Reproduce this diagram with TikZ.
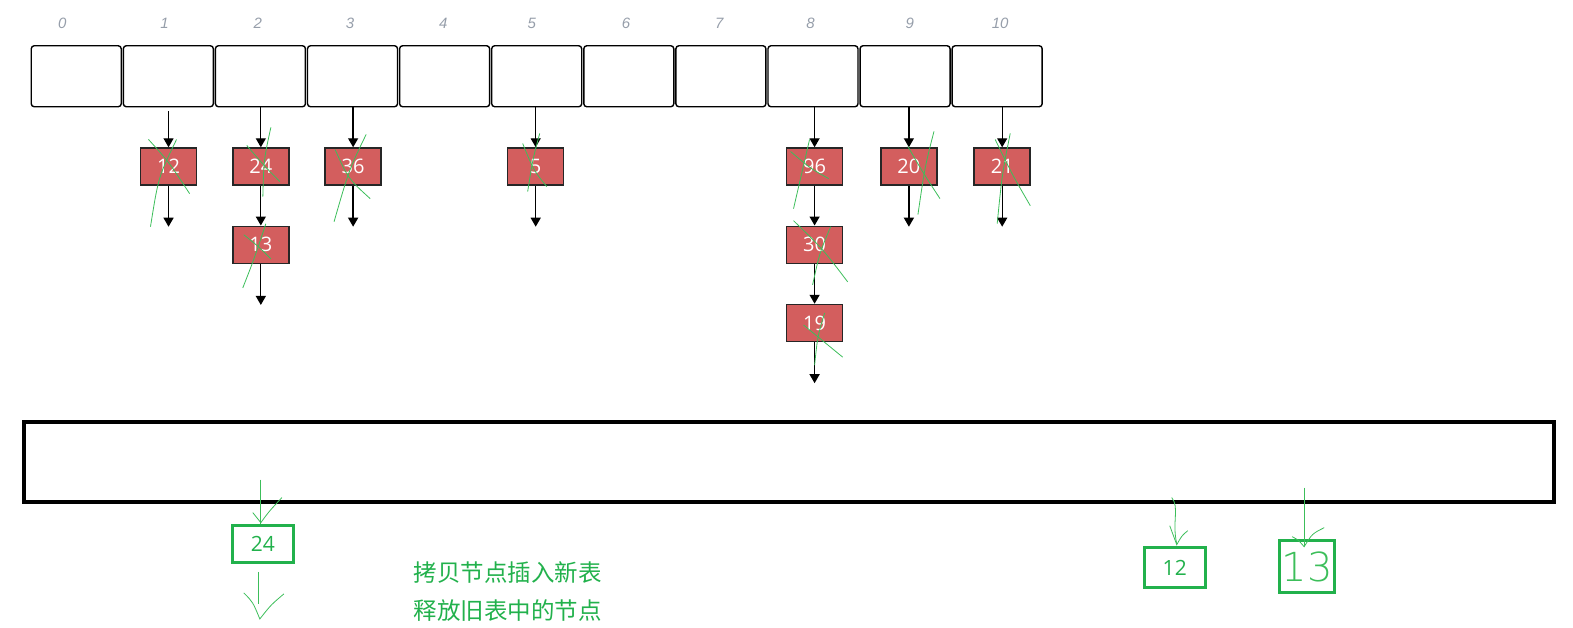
\documentclass[tikz,border=0pt]{standalone}
\usepackage{fontspec}
\setmainfont{Open Sans}
\newfontfamily\idxfont{Liberation Sans}
\newfontfamily\cjk{Noto Sans CJK SC}
\newfontfamily\thinfont{DejaVu Sans ExtraLight}
\usetikzlibrary{arrows.meta}
\definecolor{nodered}{RGB}{211,94,94}
\definecolor{gr}{RGB}{34,177,76}
\definecolor{lgr}{RGB}{60,190,90}
\definecolor{idxgray}{RGB}{150,158,170}
\tikzset{
  cell/.style={draw=black, line width=1.4pt, rounded corners=3pt, minimum width=90pt, minimum height=61pt, inner sep=0pt, fill=white},
  hnode/.style={draw=black!85, line width=1.5pt, fill=nodered, minimum width=56pt, minimum height=37pt, inner sep=0pt, text=white, font=\fontsize{20}{20}\selectfont},
  idx/.style={text=idxgray, font=\idxfont\itshape\fontsize{15}{15}\selectfont},
  arr/.style={line width=1.3pt, -{Triangle[width=10pt,length=9pt]}},
  cross/.style={draw=lgr, line width=0.8pt},
  gbox/.style={draw=gr, line width=3pt, inner sep=0pt, text=gr, font=\fontsize{21}{21}\selectfont},
  garr/.style={draw=lgr, line width=0.8pt},
  cn/.style={text=gr, font=\cjk\fontsize{23.5}{23.5}\selectfont, anchor=west, inner sep=0pt}
}
\begin{document}
\begin{tikzpicture}[x=1.0032pt,y=-1.0032pt]
\useasboundingbox (0,0) rectangle (1568,626);
% index labels
\foreach \i/\x in {0/62,1/164,2/257,3/349,4/442,5/530,6/624,7/717,8/808,9/907,10/997}
  \node[idx] (l\i) at (\x,23) {\i};
% cells
\foreach \i in {0,...,10}
  \node[cell] (c\i) at (76+91.8*\i,76) {};
% chain nodes
\node[hnode] (n12) at (168,166) {12};
\node[hnode] (n24) at (260,166) {24};
\node[hnode] (n13) at (260,244) {13};
\node[hnode] (n36) at (352,166) {36};
\node[hnode] (n5)  at (534,166) {5};
\node[hnode] (n96) at (812,166) {96};
\node[hnode] (n30) at (812,244) {30};
\node[hnode] (n19) at (812,322) {19};
\node[hnode] (n20) at (906,166) {20};
\node[hnode] (n21) at (999,166) {21};
% null ends
\coordinate (z12) at (168,226);
\coordinate (z13) at (260,304);
\coordinate (z36) at (352,226);
\coordinate (z5)  at (534,226);
\coordinate (z19) at (812,382);
\coordinate (z20) at (906,226);
\coordinate (z21) at (999,226);
% arrows
\draw[arr] ([yshift=-4pt]n12.north |- c1.south) -- (n12.north);
\draw[arr] (n24.north |- c2.south) -- (n24.north);
\draw[arr] (n36.north |- c3.south) -- (n36.north);
\draw[arr] (n5.north |- c5.south) -- (n5.north);
\draw[arr] (n96.north |- c8.south) -- (n96.north);
\draw[arr] (n20.north |- c9.south) -- (n20.north);
\draw[arr] (n21.north |- c10.south) -- (n21.north);
\draw[arr] (n24.south) -- (n13.north);
\draw[arr] (n96.south) -- (n30.north);
\draw[arr] (n30.south) -- (n19.north);
\draw[arr] (n12.south) -- (z12);
\draw[arr] (n13.south) -- (z13);
\draw[arr] (n36.south) -- (z36);
\draw[arr] (n5.south) -- (z5);
\draw[arr] (n19.south) -- (z19);
\draw[arr] (n20.south) -- (z20);
\draw[arr] (n21.south) -- (z21);
% hand-drawn crosses
\draw[cross] ([shift={(-20,-27)}]n12.center) .. controls ([shift={(0,-5)}]n12.center) .. ([shift={(21,27)}]n12.center);
\draw[cross] ([shift={(8,-27)}]n12.center) .. controls ([shift={(-10,10)}]n12.center) .. ([shift={(-18,60)}]n12.center);
\draw[cross] ([shift={(-14,-21)}]n24.center) .. controls ([shift={(4,0)}]n24.center) .. ([shift={(19,15)}]n24.center);
\draw[cross] ([shift={(10,-39)}]n24.center) .. controls ([shift={(3,-7)}]n24.center) .. ([shift={(2,30)}]n24.center);
\draw[cross] ([shift={(-17,-10)}]n13.center) .. controls ([shift={(-2,2)}]n13.center) .. ([shift={(10,14)}]n13.center);
\draw[cross] ([shift={(5,-21)}]n13.center) .. controls ([shift={(-7,15)}]n13.center) .. ([shift={(-18,43)}]n13.center);
\draw[cross] ([shift={(-18,-17)}]n36.center) .. controls ([shift={(-5,12)}]n36.center) .. ([shift={(17,32)}]n36.center);
\draw[cross] ([shift={(13,-32)}]n36.center) .. controls ([shift={(-4,3)}]n36.center) .. ([shift={(-19,55)}]n36.center);
\draw[cross] ([shift={(-13,-23)}]n5.center) .. controls ([shift={(-2,4)}]n5.center) .. ([shift={(11,20)}]n5.center);
\draw[cross] ([shift={(4,-33)}]n5.center) .. controls ([shift={(-3,-7)}]n5.center) .. ([shift={(-8,25)}]n5.center);
\draw[cross] ([shift={(-24,-15)}]n96.center) .. controls ([shift={(-4,2)}]n96.center) .. ([shift={(14,12)}]n96.center);
\draw[cross] ([shift={(-5,-27)}]n96.center) .. controls ([shift={(-13,7)}]n96.center) .. ([shift={(-21,42)}]n96.center);
\draw[cross] ([shift={(-21,-24)}]n30.center) .. controls ([shift={(8,4)}]n30.center) .. ([shift={(33,37)}]n30.center);
\draw[cross] ([shift={(16,-18)}]n30.center) .. controls ([shift={(5,8)}]n30.center) .. ([shift={(-2,40)}]n30.center);
\draw[cross] ([shift={(-11,2)}]n19.center) .. controls ([shift={(8,18)}]n19.center) .. ([shift={(28,34)}]n19.center);
\draw[cross] ([shift={(10,-10)}]n19.center) .. controls ([shift={(3,13)}]n19.center) .. ([shift={(0,42)}]n19.center);
\draw[cross] ([shift={(-1,-20)}]n20.center) .. controls ([shift={(14,6)}]n20.center) .. ([shift={(31,32)}]n20.center);
\draw[cross] ([shift={(25,-35)}]n20.center) .. controls ([shift={(16,0)}]n20.center) .. ([shift={(9,48)}]n20.center);
\draw[cross] ([shift={(-7,-27)}]n21.center) .. controls ([shift={(10,8)}]n21.center) .. ([shift={(28,39)}]n21.center);
\draw[cross] ([shift={(8,-33)}]n21.center) .. controls ([shift={(0,7)}]n21.center) .. ([shift={(-5,57)}]n21.center);
% new table
\node[draw=black, line width=4pt, minimum width=1530pt, minimum height=80pt, inner sep=0pt] (newt) at (786.5,460.5) {};
% green boxes
\node[gbox, minimum width=61pt, minimum height=37pt] (g24) at (262,542) {24};
\node[gbox, minimum width=61pt, minimum height=40pt] (g12) at (1171,566) {12};
\node[gbox, minimum width=55pt, minimum height=52pt, text=lgr, font=\thinfont\fontsize{40}{40}\selectfont] (g13) at (1303,565) {13};
% green hand arrows
\coordinate (a1s) at (260,478);
\draw[garr] (a1s) -- (n24.south |- g24.north) ;
\draw[garr] (252,511) .. controls (256,516) .. (260,521) .. controls (268,510) .. (281,496);
\coordinate (a2s) at (258,570);
\coordinate (a2e) at (258,602);
\draw[garr] (a2s) -- (a2e);
\draw[garr] (243,591) .. controls (252,600) .. (259,617) .. controls (270,603) .. (283,592);
\coordinate (a3s) at (1168,496);
\draw[garr] (a3s) .. controls (1176,506) and (1168,520) .. (1173,542);
\draw[garr] (1166,524) .. controls (1169,534) .. (1173,543) .. controls (1178,534) .. (1184,529);
\coordinate (a4s) at (1300,486);
\draw[garr] (a4s) -- (1300,544);
\draw[garr] (1288,535) .. controls (1294,538) .. (1300,545) .. controls (1308,532) .. (1320,526);
% caption
\node[cn] (t1) at (412,571) {拷贝节点插入新表};
\node[cn] (t2) at (412,609) {释放旧表中的节点};
\end{tikzpicture}
\end{document}
